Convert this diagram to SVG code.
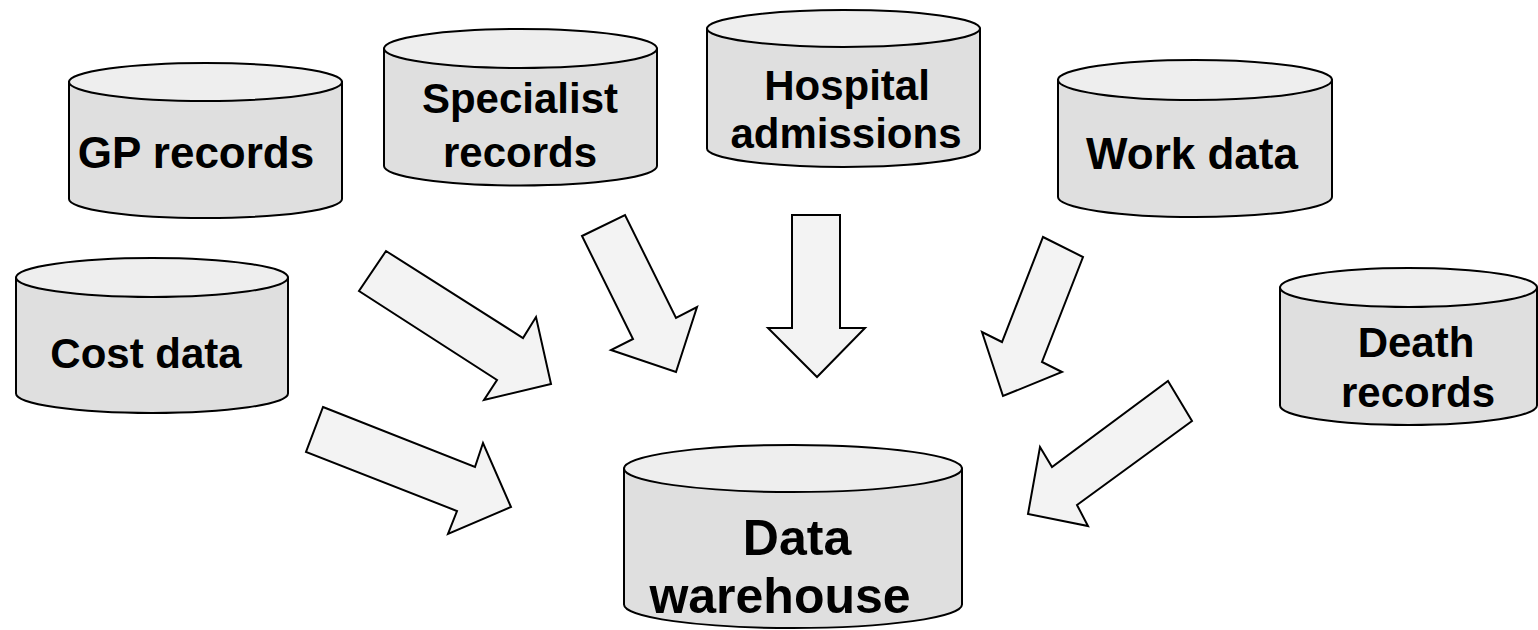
<svg xmlns="http://www.w3.org/2000/svg" width="1538" height="630" viewBox="0 0 1538 630">
<style>
.body{fill:#dfdfdf;stroke:#000;stroke-width:2}
.top{fill:#eeeeee;stroke:#000;stroke-width:2}
.lbl{font-family:"Liberation Sans",Arial,sans-serif;font-weight:bold;font-size:42px;fill:#000;text-anchor:middle}
.mid{font-size:44px}
.big{font-size:50px}
.arr{fill:#f3f3f3;stroke:#000;stroke-width:2;stroke-linejoin:miter}
</style>
<rect width="1538" height="630" fill="#fff"/>
<g id="gp">
<path class="body" d="M69,82 L69,199 A136.5,19 0 0 0 342,199 L342,82 Z"/>
<ellipse class="top" cx="205.5" cy="82" rx="136.5" ry="19"/>
<text class="lbl mid" x="196" y="168">GP records</text>
</g>
<g id="specialist">
<path class="body" d="M384,48.5 L384,166 A136.5,19.5 0 0 0 657,166 L657,48.5 Z"/>
<ellipse class="top" cx="520.5" cy="48.5" rx="136.5" ry="19.5"/>
<text class="lbl" x="520" y="113">Specialist</text>
<text class="lbl" x="520" y="167">records</text>
</g>
<g id="hospital">
<path class="body" d="M707,28.5 L707,148.5 A136.5,18.5 0 0 0 980,148.5 L980,28.5 Z"/>
<ellipse class="top" cx="843.5" cy="28.5" rx="136.5" ry="18.5"/>
<text class="lbl" x="847" y="100">Hospital</text>
<text class="lbl" x="846" y="148">admissions</text>
</g>
<g id="work">
<path class="body" d="M1058,80 L1058,197 A137,20 0 0 0 1332,197 L1332,80 Z"/>
<ellipse class="top" cx="1195" cy="80" rx="137" ry="20"/>
<text class="lbl mid" x="1192" y="169">Work data</text>
</g>
<g id="cost">
<path class="body" d="M16,277.5 L16,393.5 A136,19.5 0 0 0 288,393.5 L288,277.5 Z"/>
<ellipse class="top" cx="152" cy="277.5" rx="136" ry="19.5"/>
<text class="lbl" x="146" y="368">Cost data</text>
</g>
<g id="death">
<path class="body" d="M1280,287.5 L1280,405.5 A128.5,19.5 0 0 0 1537,405.5 L1537,287.5 Z"/>
<ellipse class="top" cx="1408.5" cy="287.5" rx="128.5" ry="19.5"/>
<text class="lbl" x="1416" y="357">Death</text>
<text class="lbl" x="1418" y="407">records</text>
</g>
<g id="warehouse">
<path class="body" d="M624,468.5 L624,604.5 A169,23.5 0 0 0 962,604.5 L962,468.5 Z"/>
<ellipse class="top" cx="793" cy="468.5" rx="169" ry="23.5"/>
<text class="lbl big" x="797" y="555">Data</text>
<text class="lbl big" x="780" y="613">warehouse</text>
</g>
<g id="connectors">
<polygon class="arr" points="386,251 523,338 536,317 551,384 484,400 497,380 359,291"/>
<polygon class="arr" points="582,236 625,215 676,318 697,307 676,372 611,350 633,339"/>
<polygon class="arr" points="792,215 840,215 840,328 865,328 817,377 768,328 792,328"/>
<polygon class="arr" points="1043,237 1083,257 1042,362 1062,372 1003,396 982,332 1002,342"/>
<polygon class="arr" points="1168,381 1192,421 1077,505 1088,526 1028,514 1040,447 1052,467"/>
<polygon class="arr" points="323,407 475,467 483,443 511,507 448,534 457,511 306,452"/>
</g>
</svg>
